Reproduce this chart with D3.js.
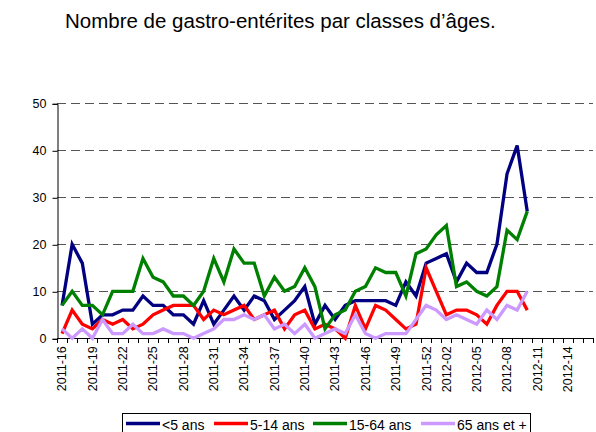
<!DOCTYPE html>
<html>
<head>
<meta charset="utf-8">
<script src="https://cdn.jsdelivr.net/npm/d3@7"></script>
<style>
  body { margin: 0; background: #fff; }
  text { font-family: "Liberation Sans", Arial, sans-serif; fill: #000; }
</style>
</head>
<body>
<svg class="container"></svg>
<script>
// weeks on the category axis (2011-16 .. 2012-16)
const weeks = [
  "2011-16","2011-17","2011-18","2011-19","2011-20","2011-21","2011-22","2011-23","2011-24","2011-25",
  "2011-26","2011-27","2011-28","2011-29","2011-30","2011-31","2011-32","2011-33","2011-34","2011-35",
  "2011-36","2011-37","2011-38","2011-39","2011-40","2011-41","2011-42","2011-43","2011-44","2011-45",
  "2011-46","2011-47","2011-48","2011-49","2011-50","2011-51","2011-52","2012-01","2012-02","2012-03",
  "2012-04","2012-05","2012-06","2012-07","2012-08","2012-09","2012-10","2012-11","2012-12","2012-13",
  "2012-14","2012-15","2012-16"
];
const weekLabels = ["2011-16","2011-19","2011-22","2011-25","2011-28","2011-31","2011-34","2011-37","2011-40",
  "2011-43","2011-46","2011-49","2011-52","2012-02","2012-05","2012-08","2012-11","2012-14"];
const yTicks = [0, 10, 20, 30, 40, 50];

// counts per age class, one per week from 2011-16
const under5 = [7,20,16,3,5,5,6,6,9,7, 7,5,5,3,8,3,6,9,6,9, 8,4,6,8,11,3,7,4,7,8, 8,8,8,7,12,9,16,17,18,12, 16,14,14,20,35,41,27];
const age5to14 = [1,6,3,2,4,3,4,2,3,5, 6,7,7,7,4,6,5,6,7,4, 5,6,2,5,6,2,3,2,0,7, 2,7,6,4,2,3,15,10,5,6, 6,5,3,7,10,10,6];
const age15to64 = [7,10,7,7,5,10,10,10,17,13, 12,9,9,7,10,17,12,19,16,16, 9,13,10,11,15,11,2,5,6,10, 11,15,14,14,9,18,19,22,24,11, 12,10,9,11,23,21,27];
const age65plus = [2,0,2,0,4,1,1,3,1,1, 2,1,1,0,1,2,4,4,5,4, 5,2,3,1,3,0,1,2,1,5, 1,0,1,1,1,4,7,6,4,5, 4,3,6,4,7,6,10];

const seriesNames = ["<5 ans", "5-14 ans", "15-64 ans", "65 ans et +"];
const seriesColors = ["#000080", "#ff0000", "#008000", "#cc99ff"];
const series = [under5, age5to14, age15to64, age65plus].map((vals, k) => ({
  name: seriesNames[k], color: seriesColors[k], values: vals
}));

const W = 596, H = 432;
const plot = { left: 57, right: 593, top: 103.3, bottom: 338.3 };

const svg = d3.select(".container").attr("width", W).attr("height", H);

const xScale = d3.scaleBand().domain(weeks).range([plot.left, plot.right]).padding(0);
const yScale = d3.scaleLinear().domain([0, 50]).range([plot.bottom, plot.top]);
const cx = w => xScale(w) + xScale.bandwidth() / 2;

// title
svg.append("text")
  .attr("x", 65).attr("y", 28)
  .style("font-size", "20.5px")
  .text("Nombre de gastro-entérites par classes d’âges.");

// dashed gridlines
svg.append("g").selectAll("line")
  .data(yTicks.filter(d => d > 0))
  .join("line")
  .attr("x1", plot.left).attr("x2", plot.right)
  .attr("y1", d => Math.round(yScale(d)) + 0.5).attr("y2", d => Math.round(yScale(d)) + 0.5)
  .attr("stroke", "#555").attr("stroke-width", 1).attr("stroke-dasharray", "9,5");

// y axis
const yAxis = svg.append("g")
  .attr("transform", `translate(${plot.left + 0.5},0.5)`)
  .call(d3.axisLeft(yScale).tickValues(yTicks).tickSize(5).tickPadding(6));
yAxis.select(".domain").attr("stroke", "#000");
yAxis.selectAll(".tick line").attr("stroke", "#000");
yAxis.selectAll(".tick text").style("font-size", "12.5px").attr("fill", "#000");

// x axis: line, ticks at category boundaries, rotated labels
const xg = svg.append("g");
xg.append("line")
  .attr("x1", plot.left).attr("x2", plot.right)
  .attr("y1", Math.round(plot.bottom) + 0.5).attr("y2", Math.round(plot.bottom) + 0.5)
  .attr("stroke", "#000");
xg.selectAll(".xtick")
  .data(weeks.concat(["end"]))
  .join("line")
  .attr("class", "xtick")
  .attr("x1", d => Math.round(d === "end" ? plot.right : xScale(d)) + 0.5)
  .attr("x2", d => Math.round(d === "end" ? plot.right : xScale(d)) + 0.5)
  .attr("y1", Math.round(plot.bottom)).attr("y2", Math.round(plot.bottom) + 5)
  .attr("stroke", "#000");
xg.selectAll(".xlabel")
  .data(weekLabels)
  .join("text")
  .attr("class", "xlabel")
  .attr("transform", d => `translate(${cx(d)},${plot.bottom + 8}) rotate(-90)`)
  .attr("text-anchor", "end")
  .attr("dy", "0.35em")
  .style("font-size", "12.5px")
  .text(d => d);

// lines
const lineGen = d3.line()
  .x((d, i) => cx(weeks[i]))
  .y(d => yScale(d));

svg.append("g").selectAll("path")
  .data(series)
  .join("path")
  .attr("d", d => lineGen(d.values))
  .attr("fill", "none")
  .attr("stroke", d => d.color)
  .attr("stroke-width", 3.3);

// legend
const legend = svg.append("g");
legend.append("rect")
  .attr("x", 122.5).attr("y", 413.5).attr("width", 408).attr("height", 26)
  .attr("fill", "#fff").attr("stroke", "#000");
const legendX = [126, 214, 313, 421];
const items = legend.selectAll(".item")
  .data(series)
  .join("g")
  .attr("class", "item")
  .attr("transform", (d, i) => `translate(${legendX[i]},423.5)`);
items.append("line")
  .attr("x1", 0).attr("x2", 34)
  .attr("stroke", d => d.color).attr("stroke-width", 3.5);
items.append("text")
  .attr("x", 36).attr("y", 6)
  .style("font-size", "14px")
  .text(d => d.name);
</script>
</body>
</html>
